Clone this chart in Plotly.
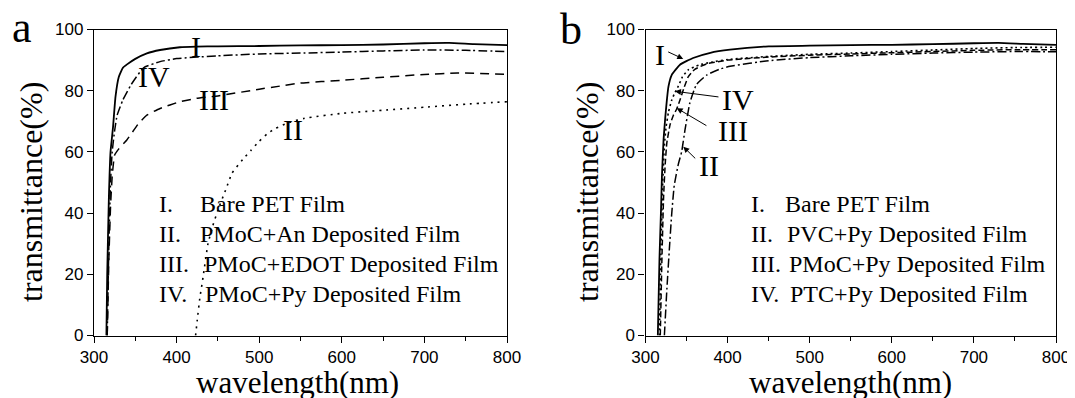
import plotly.graph_objects as go

# ---------------- data: panel a ----------------
a_I_wl = [315, 316, 318, 320, 323, 326, 330, 335, 340, 350, 364, 380, 404, 424, 450, 500, 550, 600, 650, 700, 730, 760, 800]
a_I_T = [0, 20, 45, 60, 68, 78, 84.5, 87.5, 88.6, 90.4, 92.2, 93.3, 94.2, 94.4, 94.5, 94.6, 94.8, 94.9, 95.1, 95.5, 95.6, 95.2, 94.9]

a_II_wl = [423, 425, 428, 432, 438, 444, 450, 460, 467, 480, 490, 500, 510, 520, 535, 555, 600, 650, 700, 750, 800]
a_II_T = [0, 5, 12, 19, 30, 36, 41, 48, 53, 57.5, 60.5, 63.5, 66, 67.7, 69.5, 71, 72.6, 73.6, 74.6, 75.6, 76.4]

a_III_wl = [316, 318, 320, 322, 325, 330, 340, 354, 364, 380, 404, 424, 450, 500, 525, 550, 600, 650, 700, 740, 800]
a_III_T = [0, 25, 42, 52, 59, 61, 64, 69.3, 72, 74.2, 76.4, 77.5, 78.3, 80.5, 81.5, 82.5, 83.4, 84.4, 85.3, 85.8, 85.3]

a_IV_wl = [316, 318, 320, 322, 325, 328, 335, 345, 360, 380, 400, 450, 500, 550, 600, 650, 700, 750, 800]
a_IV_T = [0, 30, 50, 60, 67, 72, 77, 82, 87.5, 89.5, 90.5, 91.4, 92, 92.3, 92.6, 93, 93.3, 93.2, 92.8]

# ---------------- data: panel b ----------------
b_I_wl = [315, 317, 319, 320, 322, 324, 328, 332, 342, 358, 379, 403, 450, 500, 550, 600, 650, 700, 730, 760, 800]
b_I_T = [0, 25, 42, 52, 64, 71, 81.4, 85.2, 88.5, 90.7, 92.4, 93.4, 94.5, 94.7, 94.9, 95.0, 95.2, 95.5, 95.6, 95.3, 95.0]

b_II_wl = [323, 326, 329, 332, 335, 340, 344, 348, 354, 362, 375, 390, 403, 450, 500, 550, 600, 650, 700, 750, 800]
b_II_T = [0, 15, 28, 40, 49, 56, 60, 67, 76, 82, 85.2, 87, 88, 89.8, 90.8, 91.4, 91.9, 92.3, 92.6, 92.8, 92.7]

b_III_wl = [318, 320, 322, 324, 326, 330, 334, 338, 342, 347, 352, 360, 375, 400, 450, 500, 550, 600, 650, 700, 750, 800]
b_III_T = [0, 25, 45, 56, 63, 69, 72, 74, 77, 81, 84.5, 87, 88.8, 90, 91, 91.6, 92, 92.4, 92.8, 93.2, 93.4, 93.4]

b_IV_wl = [317, 319, 321, 323, 325, 328, 332, 336, 340, 345, 352, 365, 380, 400, 450, 500, 550, 600, 650, 700, 750, 800]
b_IV_T = [0, 30, 50, 62, 68, 73, 77, 79.5, 81.5, 84.5, 86.8, 88.4, 89.3, 90.2, 91.2, 91.9, 92.3, 92.8, 93.3, 93.8, 94.1, 94.2]

x_ticks = [300, 400, 500, 600, 700, 800]
y_ticks = [0, 20, 40, 60, 80, 100]

legend_a = ["Bare PET Film", "PMoC+An Deposited Film", "PMoC+EDOT Deposited Film", "PMoC+Py Deposited Film"]
legend_b = ["Bare PET Film", "PVC+Py Deposited Film", "PMoC+Py Deposited Film", "PTC+Py Deposited Film"]
numerals = ["I.", "II.", "III.", "IV."]

# the page body has an 8px margin: the figure starts at (8, 8) in the window
OFF = 8
W, H = 1075 - OFF, 398 - OFF
SERIF = "Liberation Serif, Times New Roman, serif"
SANS = "Liberation Sans, Arial, sans-serif"

fig = go.Figure()

def add(xs, ys, dash, width, xa, ya):
    fig.add_trace(go.Scatter(x=xs, y=ys, mode="lines", xaxis=xa, yaxis=ya,
                             line=dict(color="black", width=width, dash=dash, shape="spline", smoothing=0.4),
                             showlegend=False, hoverinfo="skip"))

add(a_I_wl, a_I_T, "solid", 1.8, "x", "y")
add(a_II_wl, a_II_T, "2px,5px", 1.6, "x", "y")
add(a_III_wl, a_III_T, "9px,6px", 1.5, "x", "y")
add(a_IV_wl, a_IV_T, "9px,3px,2px,3px", 1.5, "x", "y")

add(b_I_wl, b_I_T, "solid", 1.8, "x2", "y2")
add(b_II_wl, b_II_T, "9px,3px,2px,3px", 1.5, "x2", "y2")
add(b_III_wl, b_III_T, "6px,3px", 1.5, "x2", "y2")
add(b_IV_wl, b_IV_T, "2px,3px", 1.6, "x2", "y2")

def px2x(px):
    return (px - OFF) / W

def py2y(py):
    return 1 - (py - OFF) / H

dom_a = [px2x(94), px2x(507)]
dom_b = [px2x(645.5), px2x(1056)]
dom_y = [py2y(335.5), py2y(29.5)]

xcommon = dict(range=[300, 800], tickvals=x_ticks, ticks="outside", ticklen=6, tickwidth=1.2,
               tickcolor="black", showline=True, linecolor="black", linewidth=1.3, mirror=True,
               showgrid=False, zeroline=False, tickfont=dict(family=SANS, size=17, color="black"),
               minor=dict(dtick=50, tick0=300, ticks="outside", ticklen=4, tickcolor="black", tickwidth=1),
               fixedrange=True, automargin=False)
ycommon = dict(range=[0, 100], tickvals=y_ticks, ticks="outside", ticklen=6, tickwidth=1.2,
               tickcolor="black", showline=True, linecolor="black", linewidth=1.3, mirror=True,
               showgrid=False, zeroline=False, tickfont=dict(family=SANS, size=17, color="black"),
               fixedrange=True, automargin=False)

fig.update_layout(
    width=W, height=H, margin=dict(l=0, r=0, t=0, b=0),
    paper_bgcolor="white", plot_bgcolor="white",
    xaxis=dict(domain=dom_a, anchor="y", **xcommon),
    yaxis=dict(domain=dom_y, anchor="x", **ycommon),
    xaxis2=dict(domain=dom_b, anchor="y2", **xcommon),
    yaxis2=dict(domain=dom_y, anchor="x2", **ycommon),
)

ann = []
def txt(text, x, y, size, xref="paper", yref="paper", xanchor="center", yanchor="middle", angle=0, family=SERIF):
    ann.append(dict(text=text, x=x, y=y, xref=xref, yref=yref, xanchor=xanchor, yanchor=yanchor,
                    showarrow=False, textangle=angle, font=dict(family=family, size=size, color="black")))

# panel letters
txt("a", px2x(22), py2y(27), 44)
txt("b", px2x(571), py2y(29), 44)

# axis titles
txt("wavelength(nm)", px2x(297), py2y(382), 31)
txt("wavelength(nm)", px2x(850), py2y(382), 31)
txt("transmittance(%)", px2x(31), py2y(192), 32, angle=-90)
txt("transmittance(%)", px2x(587), py2y(192), 32, angle=-90)

# legends (text blocks)
rows_y = [204, 234, 264, 294]
a_desc_x = [198, 198, 202, 203]
b_desc_x = [783, 785, 787, 788]
for i in range(4):
    txt(numerals[i], px2x(157), py2y(rows_y[i]), 24, xanchor="left")
    txt(legend_a[i], px2x(a_desc_x[i]), py2y(rows_y[i]), 24, xanchor="left")
    txt(numerals[i], px2x(749), py2y(rows_y[i]), 24, xanchor="left")
    txt(legend_b[i], px2x(b_desc_x[i]), py2y(rows_y[i]), 24, xanchor="left")

# curve labels, panel a (data coords)
txt("I", 423.5, 94.6, 30, xref="x", yref="y")
txt("IV", 372.6, 84.8, 30, xref="x", yref="y")
txt("III", 445, 77, 30, xref="x", yref="y")
txt("II", 541, 67.2, 30, xref="x", yref="y")

# curve labels, panel b
txt("I", 317.7, 91.8, 30, xref="x2", yref="y2")
txt("IV", 412.7, 77, 30, xref="x2", yref="y2")
txt("III", 406.6, 66.9, 30, xref="x2", yref="y2")
txt("II", 377.3, 55.4, 30, xref="x2", yref="y2")

# arrows, panel b: (tip_x, tip_y, start_x, start_y)
arrows = [(346, 90.4, 325.8, 92.9), (335.9, 79.8, 390.7, 77.9), (338, 74.3, 376, 68.3), (346, 61.7, 362.4, 57.4)]
for tx, ty, sx, sy in arrows:
    ann.append(dict(text="", x=tx, y=ty, ax=sx, ay=sy, xref="x2", yref="y2", axref="x2", ayref="y2",
                    showarrow=True, arrowhead=2, arrowsize=1.2, arrowwidth=1, arrowcolor="black"))

fig.update_layout(annotations=ann)
fig.write_html("out.html", config=dict(displayModeBar=False))
